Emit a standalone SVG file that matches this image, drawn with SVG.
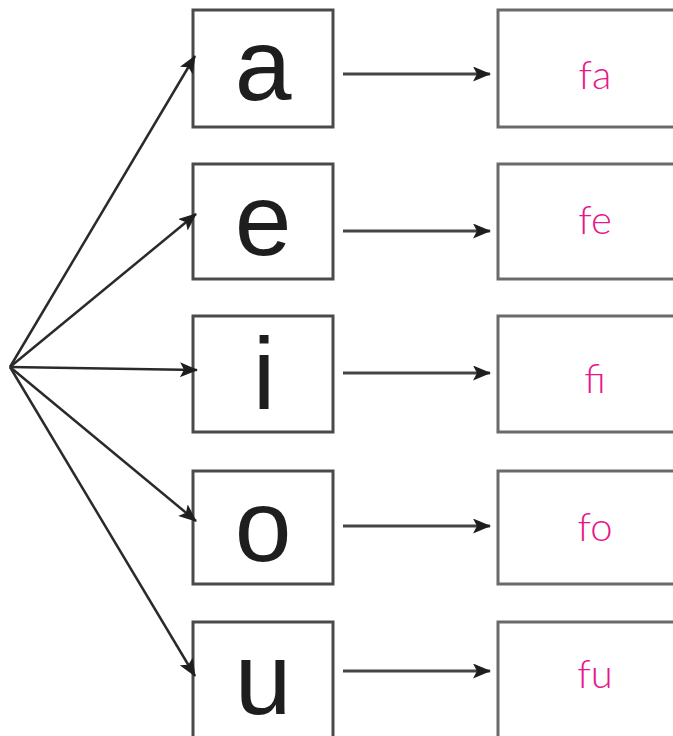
<svg xmlns="http://www.w3.org/2000/svg" width="673" height="736" viewBox="0 0 673 736">
<style>
.box{fill:#fff;stroke:#4a4a4a;stroke-width:3}
.rbox{fill:#fff;stroke:#6a6a6a;stroke-width:3}
.vow{font-family:"Liberation Sans",Arial,sans-serif;font-size:102px;fill:#1e1e1e;text-anchor:middle}
.syl{font-family:Lato,"Open Sans",sans-serif;font-weight:300;font-size:40px;fill:#e8168c;text-anchor:middle}
.conn line{stroke:#2a2a2a;stroke-width:2.5;marker-end:url(#ah)}
.conn .h{stroke:#444;stroke-width:3}
</style>
<defs>
<marker id="ah" markerUnits="userSpaceOnUse" markerWidth="18" markerHeight="15" viewBox="0 0 18 15" refX="17" refY="7.5" orient="auto">
<path d="M0,0 L18,7.5 L0,15 L4,7.5 Z" fill="#1e1e1e"/>
</marker>
</defs>
<g id="node-a"><rect class="box" x="193" y="10" width="140" height="117"/><text class="vow" x="263" y="100">a</text></g>
<g id="node-e"><rect class="box" x="193" y="164" width="140" height="115"/><text class="vow" x="263" y="255">e</text></g>
<g id="node-i"><rect class="box" x="193" y="316" width="140" height="116"/><text class="vow" x="264" y="409">i</text></g>
<g id="node-o"><rect class="box" x="193" y="471" width="140" height="113"/><text class="vow" x="263" y="561">o</text></g>
<g id="node-u"><rect class="box" x="193" y="622" width="140" height="130"/><text class="vow" x="263" y="714">u</text></g>
<g id="node-fa"><rect class="rbox" x="498" y="10" width="200" height="117"/><text class="syl" x="595" y="89">fa</text></g>
<g id="node-fe"><rect class="rbox" x="498" y="164" width="200" height="115"/><text class="syl" x="595" y="234">fe</text></g>
<g id="node-fi"><rect class="rbox" x="498" y="316" width="200" height="116"/><text class="syl" x="595" y="393">fi</text></g>
<g id="node-fo"><rect class="rbox" x="498" y="471" width="200" height="113"/><text class="syl" x="595" y="541">fo</text></g>
<g id="node-fu"><rect class="rbox" x="498" y="622" width="200" height="130"/><text class="syl" x="595" y="688">fu</text></g>
<g id="connectors" class="conn">
<line x1="10" y1="367" x2="195" y2="56"/>
<line x1="10" y1="367" x2="196" y2="214"/>
<line x1="10" y1="367" x2="197" y2="370"/>
<line x1="10" y1="367" x2="196" y2="521"/>
<line x1="10" y1="367" x2="195" y2="676"/>
<line class="h" x1="343" y1="74" x2="490" y2="74"/>
<line class="h" x1="343" y1="231" x2="490" y2="231"/>
<line class="h" x1="343" y1="373" x2="490" y2="373"/>
<line class="h" x1="343" y1="526" x2="490" y2="526"/>
<line class="h" x1="343" y1="671" x2="490" y2="671"/>
</g>
</svg>
